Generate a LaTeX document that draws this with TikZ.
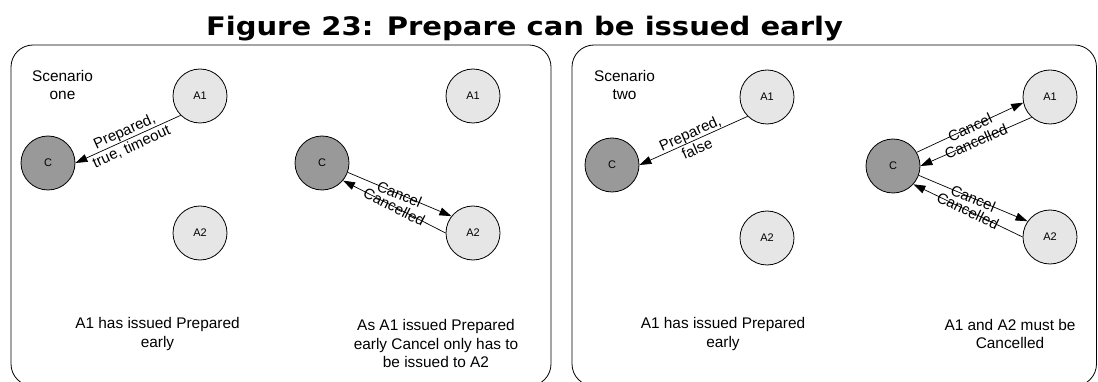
\documentclass[tikz,border=0pt]{standalone}
\usepackage{fontspec}
\setmainfont{Liberation Sans}
\newfontfamily\titlefont{DejaVu Sans}
\usepackage{graphicx}
\usetikzlibrary{arrows.meta}
\definecolor{agentfill}{HTML}{E6E6E6}
\definecolor{coordfill}{HTML}{999999}

\tikzset{
  panel/.style={draw=black, line width=0.8pt, rounded corners=22pt},
  agent/.style={circle, draw=black, line width=0.8pt, fill=agentfill,
    minimum size=54pt, inner sep=0pt, font=\fontsize{11}{13}\selectfont},
  coord/.style={agent, fill=coordfill},
  caption/.style={align=center, inner sep=0pt, font=\fontsize{15.4}{18.5}\selectfont},
  msg/.style={draw=black, line width=0.7pt, -{Triangle[length=12pt,width=8pt]}},
  msglabel/.style={sloped, midway, inner sep=0pt, align=center,
    font=\fontsize{15}{17}\selectfont},
}

\begin{document}
\begin{tikzpicture}[x=1pt,y=-1pt]
\useasboundingbox (0,0) rectangle (1098,382);

% heading
\node[anchor=base, inner sep=0pt] (title) at (524.5,36)
  {\resizebox{637pt}{\height}{\titlefont\bfseries\fontsize{25.5}{30}\selectfont Figure 23: Prepare can be issued early}};

% the two scenario panels
\draw[panel] (11,45) rectangle (551,386);
\draw[panel] (572,45) rectangle (1096.5,386);

% ---- scenario one ----
\node[caption] (s1) at (62.5,85) {Scenario\\one};
\node[agent] (a1A1) at (200,96) {A1};
\node[coord] (a1C) at (48,163) {C};
\node[agent] (a1A2) at (200,233) {A2};
\draw[msg] (a1A1.225) -- node[msglabel] {Prepared,\\true, timeout} (a1C.0);
\node[caption] (s1a) at (157.5,334) {A1 has issued Prepared\\early};

\node[agent] (b1A1) at (473,96) {A1};
\node[coord] (b1C) at (322,163) {C};
\node[agent] (b1A2) at (473,233) {A2};
\draw[msg] (b1C.-20) -- node[msglabel] {Cancel} (b1A2.142);
\draw[msg] (b1A2.180) -- node[msglabel] {Cancelled} (b1C.-40);
\node[caption] (s1b) at (436,343.5) {As A1 issued Prepared\\early Cancel only has to\\be issued to A2};

% ---- scenario two ----
\node[caption] (s2) at (624.5,85) {Scenario\\two};
\node[agent] (a2A1) at (767,97) {A1};
\node[coord] (a2C) at (612,165) {C};
\node[agent] (a2A2) at (767,238) {A2};
\draw[msg] (a2A1.225) -- node[msglabel] {Prepared,\\false} (a2C.0);
\node[caption] (s2a) at (723,334) {A1 has issued Prepared\\early};

\node[agent] (b2A1) at (1050,97) {A1};
\node[coord] (b2C) at (893,166) {C};
\node[agent] (b2A2) at (1050,237) {A2};
\draw[msg] (b2C.30) -- node[msglabel] {Cancel} (b2A1.192);
\draw[msg] (b2A1.228) -- node[msglabel] {Cancelled} (b2C.0);
\draw[msg] (b2C.-20) -- node[msglabel] {Cancel} (b2A2.145);
\draw[msg] (b2A2.180) -- node[msglabel] {Cancelled} (b2C.-42);
\node[caption] (s2b) at (1010,334) {A1 and A2 must be\\Cancelled};
\end{tikzpicture}
\end{document}
